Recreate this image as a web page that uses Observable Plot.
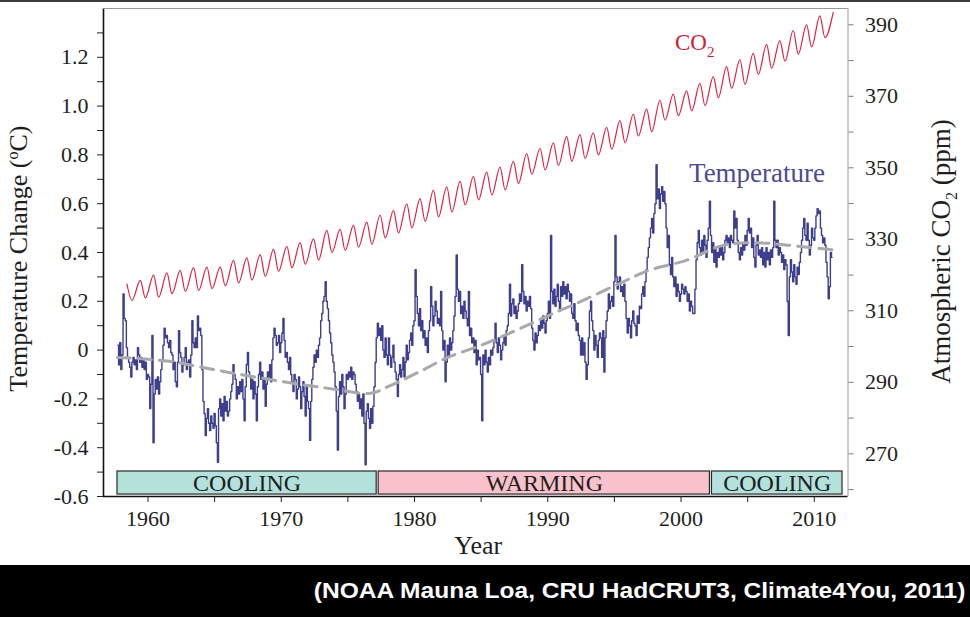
<!DOCTYPE html>
<html><head><meta charset="utf-8">
<script src="https://cdn.jsdelivr.net/npm/d3@7"></script>
<script src="https://cdn.jsdelivr.net/npm/@observablehq/plot@0.6"></script>
<style>
body{margin:0;background:#fff;width:970px;height:617px;overflow:hidden;position:relative;}
#topline{position:absolute;top:0;left:0;width:970px;height:2px;background:#3a3a3a;}
#chart svg{display:block}
#caption{height:52px;background:#000;color:#fff;font:bold 22px "Liberation Sans",Arial,sans-serif;text-align:right;line-height:52px;padding-right:5px;white-space:nowrap;}
#caption span{display:inline-block;transform:scaleX(1.115);transform-origin:right center;}
</style></head><body>
<div id="chart"></div>
<div id="caption"><span>(NOAA Mauna Loa, CRU HadCRUT3, Climate4You, 2011)</span></div>
<div id="topline"></div>
<script>
// ---------- DATA ----------
const co2Years = [1958,1959,1960,1961,1962,1963,1964,1965,1966,1967,1968,1969,1970,1971,1972,1973,1974,1975,1976,1977,1978,1979,1980,1981,1982,1983,1984,1985,1986,1987,1988,1989,1990,1991,1992,1993,1994,1995,1996,1997,1998,1999,2000,2001,2002,2003,2004,2005,2006,2007,2008,2009,2010,2011];
// seasonal maximum (spring) of each year, ppm
const co2Peak = [317.5,318.5,320.0,320.6,321.3,322.1,322.2,322.2,324.1,324.8,325.7,327.2,328.0,329.1,330.1,332.5,332.8,333.9,334.8,336.8,338.1,339.9,341.4,343.7,344.7,346.2,347.6,348.8,350.2,351.8,354.0,355.4,357.0,358.8,359.3,359.8,361.3,363.2,365.0,366.4,368.9,370.6,371.5,373.6,375.5,378.3,380.3,382.0,384.5,385.6,388.4,390.0,392.5,393.5];
// seasonal minimum (autumn) of each year, ppm
const co2Trough = [312.9,313.6,313.8,314.8,315.4,315.7,316.2,317.0,317.8,318.6,319.6,321.0,322.0,323.0,324.2,326.3,326.9,327.8,328.6,330.4,331.8,333.2,335.0,336.3,337.6,339.6,341.0,342.4,343.8,345.6,348.2,349.4,350.6,351.8,352.6,353.6,355.2,357.0,358.9,360.1,363.3,364.6,365.9,367.4,369.6,372.2,373.3,376.1,377.8,379.8,381.8,383.8,386.4];

// monthly temperature anomaly (deg C), starting Sep 1957
const tempStartYear = 1957, tempStartMonth = 8;
const tempMonthly = [
  0.02,-0.06,0.03,-0.08,
  -0.02,0.23,0.13,0.12,0.01,-0.03,-0.05,-0.07,-0.11,-0.05,-0.03,-0.06,
  -0.04,-0.08,0.01,-0.02,-0.05,-0.03,-0.07,-0.04,-0.08,-0.05,-0.12,-0.10,
  -0.11,-0.24,-0.14,0.06,-0.38,-0.18,-0.12,-0.16,-0.11,-0.18,-0.13,-0.08,
  -0.04,0.02,0.09,0.05,0.06,0.03,0.01,0.04,-0.01,-0.02,-0.08,-0.05,
  -0.13,-0.15,-0.05,0.08,-0.01,-0.03,-0.09,-0.06,-0.03,0.01,-0.08,-0.05,
  -0.04,-0.11,-0.02,0.12,0.03,0.01,0.05,0.01,0.14,0.08,0.09,0.06,
  -0.08,-0.21,-0.26,-0.35,-0.28,-0.24,-0.30,-0.33,-0.27,-0.30,-0.32,-0.26,
  -0.31,-0.38,-0.46,-0.24,-0.20,-0.27,-0.22,-0.29,-0.19,-0.25,-0.21,-0.27,
  -0.25,-0.20,-0.17,-0.14,-0.06,-0.10,-0.12,-0.20,-0.15,-0.18,-0.13,-0.17,
  -0.12,-0.20,-0.29,-0.15,-0.06,-0.01,-0.09,-0.11,-0.16,-0.12,-0.20,-0.13,
  -0.18,-0.29,-0.15,-0.10,-0.05,-0.12,-0.09,-0.16,-0.12,-0.23,-0.14,-0.09,
  -0.11,-0.06,-0.13,-0.04,0.05,0.09,0.06,0.02,0.03,0.06,-0.01,0.03,
  0.07,0.13,0.04,-0.03,-0.01,-0.05,-0.08,-0.03,-0.10,-0.13,-0.17,-0.10,
  -0.12,-0.20,-0.16,-0.11,-0.15,-0.24,-0.17,-0.13,-0.19,-0.27,-0.15,-0.21,
  -0.24,-0.37,-0.21,-0.12,-0.07,-0.02,-0.05,0.00,-0.03,0.02,0.05,0.12,
  0.15,0.20,0.22,0.28,0.20,0.17,0.12,0.07,0.03,-0.02,-0.05,-0.09,
  -0.15,-0.25,-0.41,-0.19,-0.13,-0.18,-0.10,-0.15,-0.24,-0.18,-0.10,-0.12,
  -0.09,-0.11,-0.07,-0.12,-0.09,-0.10,-0.14,-0.17,-0.21,-0.18,-0.24,-0.20,
  -0.27,-0.18,-0.30,-0.47,-0.25,-0.22,-0.28,-0.32,-0.24,-0.30,-0.23,-0.15,
  -0.05,0.05,0.11,0.06,0.09,0.04,0.10,0.00,-0.03,0.05,-0.02,-0.06,
  0.05,-0.02,-0.07,-0.03,0.02,-0.05,-0.09,-0.12,-0.19,-0.10,-0.06,-0.11,
  -0.08,-0.03,-0.11,-0.05,0.02,-0.04,-0.01,0.04,0.07,0.02,0.10,0.12,
  0.33,0.22,0.15,0.10,0.17,0.08,0.12,0.05,0.08,0.02,0.05,-0.01,
  0.08,0.12,0.26,0.18,0.10,0.14,0.20,0.16,0.11,0.13,0.10,0.24,
  0.08,0.00,0.04,-0.13,-0.05,0.02,-0.03,0.05,0.00,0.03,0.08,0.14,
  0.22,0.39,0.25,0.20,0.24,0.15,0.18,0.13,0.20,0.16,0.13,0.10,
  0.24,0.06,0.09,0.03,0.05,-0.01,0.04,-0.06,0.00,-0.04,-0.03,-0.10,
  -0.29,-0.02,-0.06,0.00,-0.05,-0.09,-0.03,-0.06,0.00,-0.02,0.01,0.04,
  0.11,0.03,-0.01,0.05,0.02,-0.04,0.00,0.03,0.06,0.02,0.08,0.10,
  0.15,0.27,0.14,0.19,0.21,0.15,0.18,0.13,0.16,0.19,0.23,0.20,
  0.35,0.24,0.19,0.22,0.16,0.20,0.18,0.22,0.17,0.09,0.04,0.00,
  0.07,0.03,0.06,0.10,0.08,0.13,0.09,0.14,0.11,0.07,0.12,0.15,
  0.20,0.13,0.47,0.24,0.19,0.25,0.18,0.22,0.27,0.20,0.17,0.26,
  0.22,0.28,0.23,0.26,0.21,0.27,0.24,0.20,0.23,0.15,0.13,0.19,
  0.12,0.08,0.11,0.06,0.04,-0.02,0.05,-0.02,0.03,-0.05,-0.12,-0.06,
  0.05,0.16,0.20,0.12,0.08,0.00,0.06,0.02,-0.03,0.04,0.07,0.05,
  -0.03,0.08,-0.09,0.05,0.12,0.16,0.23,0.17,0.20,0.22,0.18,0.28,
  0.47,0.30,0.25,0.28,0.30,0.24,0.26,0.22,0.27,0.20,0.13,0.07,
  0.13,0.10,0.05,0.12,0.16,0.11,0.10,0.06,0.14,0.11,0.18,0.17,
  0.23,0.26,0.22,0.28,0.33,0.38,0.42,0.46,0.50,0.54,0.48,0.56,
  0.60,0.76,0.62,0.66,0.58,0.64,0.67,0.61,0.65,0.60,0.50,0.42,
  0.47,0.35,0.31,0.38,0.30,0.26,0.30,0.22,0.27,0.24,0.20,0.23,
  0.27,0.25,0.23,0.26,0.24,0.20,0.23,0.16,0.20,0.18,0.15,0.15,
  0.25,0.37,0.44,0.49,0.42,0.39,0.45,0.40,0.47,0.43,0.38,0.45,
  0.50,0.61,0.47,0.40,0.44,0.36,0.42,0.34,0.40,0.38,0.42,0.39,
  0.42,0.37,0.40,0.45,0.47,0.44,0.46,0.42,0.47,0.45,0.44,0.57,
  0.50,0.54,0.45,0.40,0.37,0.42,0.39,0.44,0.41,0.47,0.43,0.49,
  0.54,0.48,0.50,0.42,0.46,0.38,0.34,0.43,0.47,0.39,0.41,0.38,
  0.42,0.35,0.40,0.34,0.42,0.37,0.40,0.35,0.41,0.38,0.42,0.61,
  0.45,0.42,0.45,0.39,0.42,0.40,0.36,0.39,0.33,0.37,0.35,0.20,
  0.06,0.30,0.37,0.32,0.28,0.35,0.30,0.27,0.34,0.31,0.36,0.40,
  0.45,0.50,0.54,0.47,0.45,0.52,0.45,0.39,0.43,0.50,0.46,0.45,
  0.50,0.55,0.58,0.56,0.57,0.50,0.47,0.44,0.46,0.43,0.36,0.30,
  0.21,0.26,0.40,0.38
];

// smoothed temperature trend (dashed)
const trendYears  = [1957.7,1961.4,1966.4,1971.4,1974.0,1976.7,1978.0,1979.0,1980.5,1982.5,1985.0,1987.5,1990.0,1992.5,1995.5,1997.5,2000.5,2003.0,2005.5,2008.0,2011.5];
const trendValues = [-0.03,-0.045,-0.095,-0.14,-0.16,-0.177,-0.15,-0.125,-0.085,-0.03,0.02,0.078,0.14,0.20,0.276,0.325,0.37,0.427,0.44,0.43,0.41];

// phase bands
const bandStart  = [1957.71, 1977.31, 2002.32];
const bandEnd    = [1977.16, 2002.17, 2012.12];
const bandLabels = ["COOLING", "WARMING", "COOLING"];

// ticks
const xTicks = [1960,1965,1970,1975,1980,1985,1990,1995,2000,2005,2010];
const tempTicks = [-0.6,-0.5,-0.4,-0.3,-0.2,-0.1,0,0.1,0.2,0.3,0.4,0.5,0.6,0.7,0.8,0.9,1.0,1.1,1.2,1.3];
const co2Ticks = [260,270,280,290,300,310,320,330,340,350,360,370,380,390];

// ---------- SCALES ----------
const xDomain = [1956.66, 2012.53];
const tDomain = [-0.6, 1.4];
const co2Domain = [258.06, 394.56];
const toT = c => tDomain[0] + (c - co2Domain[0]) * (tDomain[1] - tDomain[0]) / (co2Domain[1] - co2Domain[0]);
const fromT = t => co2Domain[0] + (t - tDomain[0]) * (co2Domain[1] - co2Domain[0]) / (tDomain[1] - tDomain[0]);

const co2Series = [];
co2Years.forEach((yr, i) => {
  co2Series.push({year: yr + 0.42, ppm: co2Peak[i]});
  if (i < co2Trough.length) co2Series.push({year: yr + 0.8, ppm: co2Trough[i]});
});
const tempSeries = tempMonthly.map((v, i) => ({year: tempStartYear + (tempStartMonth + i + 1) / 12, anomaly: v}));
const trendSeries = trendYears.map((yr, i) => ({year: yr, anomaly: trendValues[i]}));

const serif = '"Liberation Serif","Times New Roman",Times,serif';

const svg = Plot.plot({
  width: 970, height: 565,
  marginLeft: 103, marginRight: 122.5, marginTop: 8, marginBottom: 69,
  style: {fontFamily: serif, fontSize: "22px", color: "#1e1e1e", background: "white", overflow: "visible"},
  x: {domain: xDomain, label: null},
  y: {domain: tDomain, label: null},
  color: {type: "identity"},
  marks: [
    Plot.rect(bandLabels, {
      x1: (d, i) => bandStart[i], x2: (d, i) => bandEnd[i],
      y1: -0.592, y2: -0.4975,
      fill: d => d === "WARMING" ? "#f8c1cb" : "#b3e1dc",
      stroke: "#2a2a2a", strokeWidth: 1.2
    }),
    Plot.text(bandLabels, {
      x: (d, i) => (bandStart[i] + bandEnd[i]) / 2, y: -0.5447,
      text: d => d, fontSize: 24, fill: "#1e1e1e"
    }),
    Plot.line(co2Series, {x: "year", y: d => toT(d.ppm), stroke: "#de2242", strokeWidth: 1.2, curve: "monotone-x"}),
    Plot.line(tempSeries, {x: "year", y: "anomaly", stroke: "#3e3e8e", strokeWidth: 1.4, curve: "step"}),
    Plot.line(trendSeries, {x: "year", y: "anomaly", stroke: "#a9a9a9", strokeWidth: 3, strokeDasharray: "13,8", curve: "catmull-rom"}),
    // frame
    Plot.ruleX([xDomain[0]], {stroke: "#111", strokeWidth: 1.6}),
    Plot.ruleY([tDomain[0]], {stroke: "#111", strokeWidth: 1.6}),
    Plot.ruleY([tDomain[1]], {stroke: "#9a9a9a", strokeWidth: 1}),
    Plot.ruleX([xDomain[1]], {stroke: "#9a9a9a", strokeWidth: 1}),
    // axes
    Plot.axisX(xTicks, {tickSize: 6, tickPadding: 8, label: null, stroke: "#222",
      tickFormat: d => d % 10 === 0 ? String(d) : ""}),
    Plot.axisY(tempTicks, {anchor: "left", tickSize: 6, tickPadding: 9, label: null, stroke: "#222",
      tickFormat: d => Math.round(d * 10) % 2 === 0 ? (d === 0 ? "0" : d.toFixed(1)) : ""}),
    Plot.axisY(co2Ticks.map(toT), {anchor: "right", tickSize: 5, tickPadding: 12, label: null, stroke: "#7a7a7a",
      tickFormat: v => { const c = Math.round(fromT(v)); return c % 20 === 10 ? String(c) : ""; }}),
    // titles and labels
    Plot.text(["Temperature Change (oC)"], {x: xDomain[0], y: 0.375, dx: -85, rotate: -90, fontSize: 26, fill: "#1e1e1e"}),
    Plot.text(["Year"], {x: 1984.78, y: tDomain[0], dy: 49, fontSize: 26, fill: "#1e1e1e"}),
    Plot.text(["Atmospheric CO2 (ppm)"], {x: xDomain[1], y: 0.404, dx: 93, rotate: -90, fontSize: 27, fill: "#1e1e1e"}),
    Plot.text(["Temperature"], {x: 2000.6, y: 0.724, textAnchor: "start", fontSize: 27, fill: "#4b4b93"}),
    Plot.text(["CO2"], {x: 1999.55, y: 1.2586, textAnchor: "start", fontSize: 23, fill: "#cf1d3b"})
  ]
});

// rich text: superscript / subscript
const NS = "http://www.w3.org/2000/svg";
function rich(el, parts) {
  el.textContent = "";
  for (const p of parts) {
    const ts = document.createElementNS(NS, "tspan");
    ts.textContent = p.t;
    if (p.size) ts.setAttribute("font-size", p.size);
    if (p.dy) ts.setAttribute("dy", p.dy);
    el.appendChild(ts);
  }
}
d3.select(svg).selectAll("text").each(function() {
  const t = this.textContent;
  if (t === "Temperature Change (oC)") {
    rich(this, [{t: "Temperature Change ("}, {t: "o", size: 16, dy: "-9px"}, {t: "C)", dy: "9px"}]);
  } else if (t === "Atmospheric CO2 (ppm)") {
    rich(this, [{t: "Atmospheric CO"}, {t: "2", size: 16, dy: "7px"}, {t: " (ppm)", dy: "-7px"}]);
  } else if (t === "CO2") {
    rich(this, [{t: "CO"}, {t: "2", size: 15, dy: "7px"}]);
  }
});

document.getElementById("chart").appendChild(svg);
</script>
</body></html>
